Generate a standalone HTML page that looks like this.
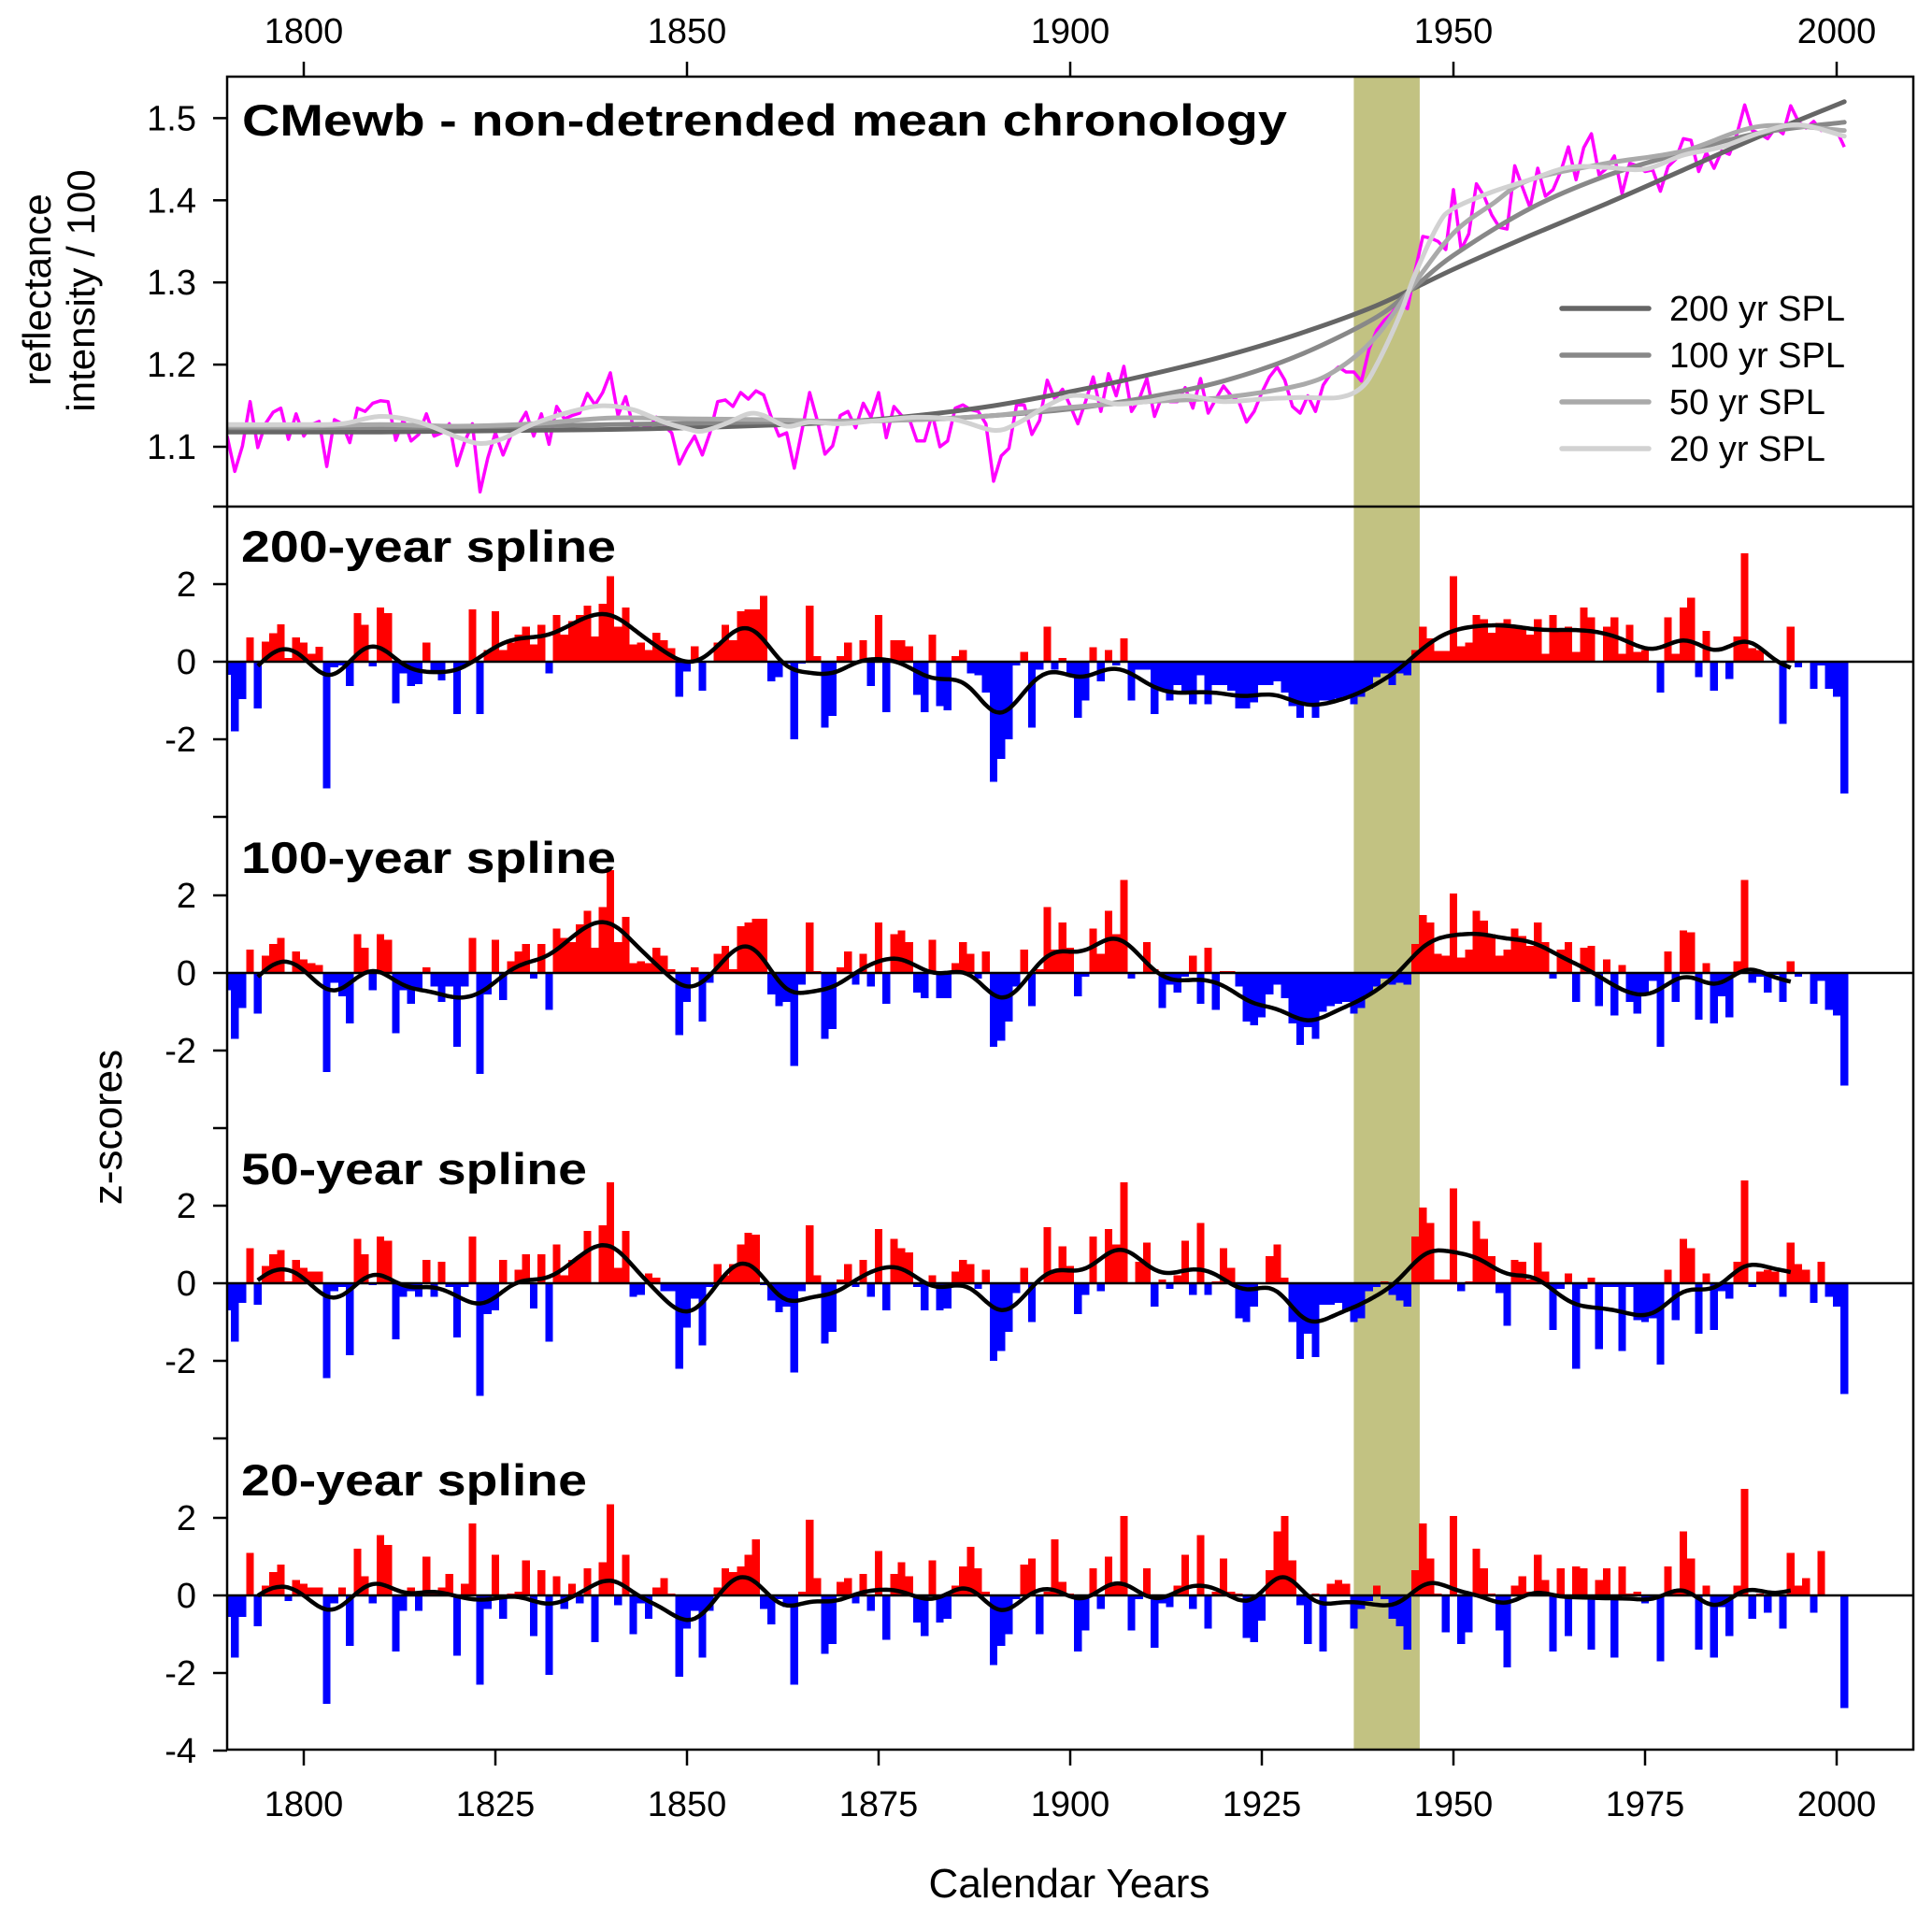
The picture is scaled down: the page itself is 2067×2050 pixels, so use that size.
<!DOCTYPE html>
<html><head><meta charset="utf-8"><title>CMewb chronology</title>
<style>html,body{margin:0;padding:0;background:#fff}svg{display:block}text{font-family:"Liberation Sans",Arial,sans-serif}</style>
</head><body>
<svg id="chart" width="2067" height="2050" viewBox="0 0 2067 2050" xmlns="http://www.w3.org/2000/svg">
<defs><clipPath id="frameClip"><rect x="243" y="82" width="1804" height="1790"/></clipPath></defs>
<rect x="0" y="0" width="2067" height="2050" fill="#fff"/>
<g id="band"></g>
<g id="plot" clip-path="url(#frameClip)"></g>
<rect x="243" y="82" width="1804" height="1790" fill="none" stroke="#000" stroke-width="2.5"/>
<line x1="228" y1="542" x2="2047" y2="542" stroke="#000" stroke-width="2.5"/>
<g id="axes"></g>
<text x="259" y="145" font-size="47" font-weight="bold" textLength="1118" lengthAdjust="spacingAndGlyphs">CMewb - non-detrended mean chronology</text>
<text x="258" y="601" font-size="47" font-weight="bold" textLength="401" lengthAdjust="spacingAndGlyphs">200-year spline</text>
<text x="258" y="934" font-size="47" font-weight="bold" textLength="401" lengthAdjust="spacingAndGlyphs">100-year spline</text>
<text x="258" y="1267" font-size="47" font-weight="bold" textLength="370" lengthAdjust="spacingAndGlyphs">50-year spline</text>
<text x="258" y="1600" font-size="47" font-weight="bold" textLength="370" lengthAdjust="spacingAndGlyphs">20-year spline</text>
<text x="1144" y="2030" font-size="44" text-anchor="middle">Calendar Years</text>
<text transform="translate(130,1206) rotate(-90)" font-size="44" text-anchor="middle">z-scores</text>
<text transform="translate(54,310) rotate(-90)" font-size="42" text-anchor="middle">reflectance</text>
<text transform="translate(101,311) rotate(-90)" font-size="42" text-anchor="middle">intensity / 100</text>
<g id="legend"></g>
</svg>
<script>
const yearStart = 1790;
const raw = [1.113,1.070,1.101,1.155,1.099,1.128,1.142,1.147,1.109,1.140,
1.113,1.127,1.131,1.076,1.133,1.128,1.105,1.147,1.143,1.153,
1.156,1.155,1.108,1.133,1.107,1.115,1.140,1.113,1.117,1.128,
1.077,1.106,1.128,1.045,1.086,1.117,1.090,1.113,1.126,1.142,
1.113,1.140,1.103,1.149,1.134,1.138,1.141,1.165,1.151,1.166,
1.190,1.138,1.161,1.124,1.128,1.123,1.136,1.126,1.117,1.079,
1.098,1.113,1.090,1.117,1.155,1.157,1.149,1.166,1.158,1.168,
1.163,1.136,1.113,1.117,1.074,1.120,1.166,1.132,1.091,1.101,
1.138,1.143,1.123,1.153,1.136,1.166,1.111,1.149,1.138,1.134,
1.107,1.107,1.140,1.100,1.107,1.147,1.151,1.145,1.143,1.128,
1.058,1.089,1.098,1.151,1.151,1.115,1.132,1.181,1.158,1.170,
1.150,1.128,1.155,1.185,1.143,1.189,1.162,1.198,1.143,1.158,
1.183,1.137,1.162,1.155,1.155,1.172,1.147,1.183,1.141,1.158,
1.174,1.162,1.155,1.130,1.143,1.166,1.185,1.197,1.181,1.149,
1.141,1.162,1.143,1.175,1.189,1.197,1.191,1.191,1.180,1.219,
1.242,1.254,1.263,1.276,1.268,1.314,1.356,1.354,1.350,1.340,
1.413,1.340,1.359,1.420,1.405,1.382,1.367,1.365,1.442,1.416,
1.391,1.439,1.405,1.413,1.435,1.465,1.425,1.464,1.481,1.431,
1.439,1.454,1.408,1.445,1.442,1.435,1.437,1.411,1.441,1.450,
1.475,1.473,1.435,1.458,1.439,1.460,1.456,1.481,1.516,1.485,
1.481,1.475,1.488,1.481,1.515,1.496,1.488,1.496,1.485,1.487,
1.485,1.465];
const spl200Years = [1790,1800,1810,1820,1830,1840,1850,1860,1870,1880,1890,1900,1910,1920,1930,1940,1950,1960,1970,1980,1990,2001];
const spl200Vals = [1.118,1.118,1.118,1.119,1.120,1.121,1.123,1.126,1.130,1.138,1.150,1.167,1.187,1.210,1.238,1.272,1.316,1.357,1.396,1.437,1.478,1.520];
const spl100Years = [1790,1800,1820,1840,1860,1880,1890,1900,1910,1920,1930,1940,1945,1950,1960,1970,1980,1990,2001];
const spl100Vals = [1.123,1.123,1.124,1.127,1.130,1.133,1.138,1.146,1.160,1.180,1.212,1.258,1.295,1.333,1.390,1.430,1.458,1.482,1.495];
const spl50Years = [1790,1800,1810,1820,1830,1840,1850,1860,1870,1880,1890,1900,1910,1920,1930,1935,1940,1945,1950,1955,1960,1970,1980,1990,2001];
const spl50Vals = [1.125,1.125,1.127,1.125,1.128,1.135,1.134,1.133,1.131,1.133,1.138,1.148,1.155,1.160,1.175,1.195,1.235,1.300,1.360,1.395,1.425,1.445,1.460,1.490,1.485];
const spl20Years = [1790,1800,1805,1810,1815,1820,1823,1826,1830,1835,1839,1843,1847,1850,1852,1855,1858,1860,1863,1866,1870,1875,1880,1885,1890,1893,1897,1900,1903,1906,1910,1915,1920,1925,1930,1935,1938,1940,1943,1945,1948,1950,1955,1960,1965,1970,1975,1980,1985,1990,1995,2001];
const spl20Vals = [1.127,1.127,1.128,1.137,1.130,1.112,1.104,1.110,1.128,1.143,1.150,1.145,1.130,1.122,1.119,1.128,1.140,1.138,1.125,1.130,1.128,1.132,1.136,1.133,1.120,1.128,1.150,1.162,1.160,1.152,1.155,1.162,1.155,1.158,1.160,1.160,1.172,1.200,1.260,1.310,1.370,1.390,1.410,1.425,1.440,1.440,1.438,1.455,1.465,1.482,1.492,1.478];
const z200 = [-0.34,-1.8,-0.96,0.63,-1.2,0.52,0.73,0.96,0.1,0.63,
0.49,0.2,0.39,-3.27,-0.15,-0.1,-0.63,1.25,0.95,-0.12,
1.4,1.25,-1.07,-0.3,-0.63,-0.58,0.5,-0.3,-0.48,0.02,
-1.35,-0.1,1.35,-1.35,0.3,1.3,0.3,0.5,0.7,0.9,
0.45,0.95,-0.3,1.2,0.7,1.05,1.2,1.45,0.65,1.5,
2.2,0.9,1.4,0.45,0.5,0.3,0.75,0.55,0.35,-0.9,
-0.25,0.4,-0.75,0.02,0.5,0.95,0.55,1.3,1.35,1.35,
1.7,-0.5,-0.4,-0.05,-2.0,-0.05,1.45,0.15,-1.7,-1.4,
0.15,0.5,-0.05,0.55,-0.63,1.2,-1.3,0.55,0.55,0.4,
-0.85,-1.3,0.7,-1.15,-1.25,0.15,0.3,-0.3,-0.35,-0.8,
-3.1,-2.5,-2.0,-0.1,0.25,-1.7,-0.2,0.9,-0.2,0.1,
-0.35,-1.45,-1.0,0.37,-0.5,0.3,-0.1,0.6,-1.0,-0.2,
-0.2,-1.35,-0.75,-1.0,-0.6,-0.8,-1.1,-0.35,-1.1,-0.6,
-0.6,-0.75,-1.2,-1.2,-1.05,-0.6,-0.6,-0.5,-0.8,-1.15,
-1.45,-1.1,-1.45,-1.0,-1.0,-0.95,-0.9,-1.1,-0.9,-0.7,
-0.4,-0.3,-0.6,-0.3,-0.35,0.3,0.9,0.6,0.28,0.28,
2.2,0.4,0.5,1.2,1.1,0.75,1.0,1.1,0.9,0.9,
0.7,1.1,0.2,1.2,0.85,0.9,0.25,1.4,1.15,0.02,
0.9,1.15,0.2,0.95,0.25,0.3,0.02,-0.8,1.15,0.2,
1.4,1.65,-0.4,0.8,-0.75,0.02,-0.45,0.65,2.8,0.35,
0.3,0.02,0.01,-1.6,0.9,-0.15,0,-0.7,-0.1,-0.7,
-0.9,-3.4];
const z100 = [-0.45,-1.7,-0.9,0.6,-1.05,0.45,0.75,0.9,0.02,0.55,
0.35,0.25,0.2,-2.55,-0.25,-0.6,-1.3,1.0,0.65,-0.45,
1.0,0.85,-1.55,-0.45,-0.8,-0.4,0.15,-0.35,-0.75,-0.35,
-1.9,-0.35,0.9,-2.6,-0.55,0.85,-0.7,0.3,0.55,0.75,
-0.15,0.75,-0.95,1.15,0.9,0.8,1.25,1.6,0.65,1.7,
2.65,0.8,1.45,0.25,0.3,0.25,0.65,0.45,0.1,-1.6,
-0.75,0.15,-1.25,-0.25,0.5,0.7,0.1,1.2,1.3,1.4,
1.4,-0.55,-0.85,-0.75,-2.4,-0.3,1.3,0.05,-1.7,-1.45,
0.15,0.55,-0.3,0.5,-0.35,1.3,-0.8,1.0,1.1,0.8,
-0.5,-0.65,0.85,-0.65,-0.65,0.25,0.8,0.5,-0.15,0.55,
-1.9,-1.75,-1.25,-0.35,0.6,-0.85,0.1,1.7,0.6,1.3,
0.65,-0.6,-0.1,1.15,0.5,1.6,1.0,2.4,-0.15,0.0,
0.8,0.1,-0.9,-0.3,-0.5,-0.1,0.45,-0.8,0.65,-0.95,
0.05,0.05,-0.35,-1.25,-1.35,-1.15,-0.55,-0.3,-0.65,-1.3,
-1.85,-1.4,-1.7,-1.0,-0.85,-0.8,-0.75,-1.05,-0.9,-0.55,
-0.35,-0.15,-0.3,-0.25,-0.3,0.75,1.5,1.3,0.5,0.45,
2.05,0.4,0.6,1.6,1.35,1.0,0.45,0.6,1.15,0.95,
0.7,1.3,0.8,-0.15,0.6,0.8,-0.75,0.65,0.7,-0.85,
0.35,-1.1,0.2,-0.75,-1.05,-0.5,-0.2,-1.9,0.55,-0.75,
1.1,1.05,-1.2,0.25,-1.3,-0.6,-1.15,0.3,2.4,-0.25,
-0.1,-0.5,-0.05,-0.75,0.3,-0.1,0,-0.8,-0.2,-0.95,
-1.1,-2.9];
const z50 = [-0.7,-1.5,-0.5,0.9,-0.55,0.45,0.75,0.85,0.05,0.6,
0.4,0.3,0.3,-2.45,-0.2,-0.1,-1.85,1.15,0.75,-0.05,
1.2,1.1,-1.45,-0.35,-0.2,-0.35,0.6,-0.35,0.55,-0.1,
-1.4,-0.1,1.2,-2.9,-0.8,-0.7,0.6,0.02,0.35,0.75,
-0.65,0.75,-1.5,1.0,0.2,0.6,0.7,1.35,0.02,1.5,
2.6,0.4,1.35,-0.35,-0.3,0.25,0.15,-0.2,-0.2,-2.2,
-1.15,-0.4,-1.6,-0.1,0.5,0.2,0.5,1.0,1.3,1.25,
-0.05,-0.45,-0.75,-0.6,-2.3,-0.2,1.5,0.2,-1.55,-1.25,
0.1,0.5,-0.1,0.6,-0.35,1.4,-0.7,1.15,0.9,0.8,
-0.1,-0.7,0.2,-0.7,-0.65,0.3,0.6,0.5,-0.15,0.35,
-2.0,-1.75,-1.25,-0.25,0.4,-1.0,0.02,1.45,0.35,0.95,
0.45,-0.8,-0.3,1.2,-0.2,1.4,1.0,2.6,0.0,0.55,
1.05,-0.6,0.1,-0.15,0.2,1.1,-0.3,1.55,-0.3,0.05,
0.9,0.4,-0.9,-1.0,-0.6,0.0,0.7,1.0,0.15,-1.0,
-1.95,-1.3,-1.9,-0.55,-0.55,-0.5,-0.7,-1.0,-0.9,-0.2,
-0.1,0.05,-0.3,-0.45,-0.6,1.2,1.95,1.55,0.1,0.1,
2.45,-0.2,0.05,1.6,1.15,0.7,-0.25,-1.1,0.6,0.55,
0.1,1.05,0.3,-1.2,-0.15,0.25,-2.2,-0.15,0.15,-1.7,
-0.1,-0.1,-1.75,-0.1,-0.95,-1.0,-0.9,-2.1,0.35,-0.95,
1.15,0.9,-1.3,0.25,-1.2,-0.2,-0.4,0.55,2.65,-0.1,
0.3,0.35,0.3,-0.35,1.05,0.5,0.35,-0.5,0.55,-0.35,
-0.6,-2.85];
const z20 = [-0.55,-1.6,-0.55,1.1,-0.8,0.25,0.6,0.8,-0.15,0.4,
0.3,0.2,0.2,-2.8,-0.2,0.2,-1.3,1.2,0.5,-0.2,
1.55,1.3,-1.45,-0.4,0.2,-0.4,1.0,0.05,0.2,0.55,
-1.55,0.3,1.85,-2.3,-0.35,1.05,-0.6,0.05,0.1,0.9,
-1.05,0.65,-2.05,0.5,-0.35,0.3,-0.2,0.7,-1.2,0.85,
2.35,-0.25,1.05,-1.0,-0.2,-0.6,0.2,0.45,0.05,-2.1,
-0.85,-0.4,-1.6,-0.4,0.2,0.7,0.6,0.75,1.05,1.45,
-0.35,-0.75,-0.1,-0.3,-2.3,0.1,1.95,0.45,-1.5,-1.25,
0.35,0.45,-0.2,0.55,-0.4,1.15,-1.15,0.55,0.85,0.5,
-0.7,-1.05,0.9,-0.7,-0.6,0.25,0.75,1.25,0.7,0.1,
-1.8,-1.3,-1.0,-0.1,0.8,0.95,-1.0,0.1,1.45,0.35,
0.05,-1.45,-0.9,0.7,-0.35,1.0,0.3,2.05,-0.9,-0.1,
0.7,-1.35,-0.2,-0.3,0.25,1.05,-0.35,1.55,-0.85,0.1,
0.95,0.1,0.05,-1.1,-1.2,-0.65,0.65,1.65,2.05,0.9,
-0.25,-1.25,0.05,-1.45,0.3,0.4,0.3,-0.85,-0.35,-0.15,
0.25,-0.1,-0.6,-0.8,-1.4,0.65,1.85,0.95,0.05,-0.95,
2.05,-1.25,-0.95,1.2,0.7,0.05,-0.9,-1.85,0.25,0.5,
0.1,1.05,0.4,-1.45,0.7,-1.05,0.75,0.7,-1.4,0.4,
0.7,-1.6,0.75,0.05,0.1,-0.2,-0.05,-1.7,0.75,0.1,
1.65,0.95,-1.4,0.25,-1.6,-0.3,-1.05,0.25,2.75,-0.6,
0.05,-0.45,0.05,-0.85,1.1,0.25,0.45,-0.45,1.15,0,
0,-2.9];
const topTicks = ["1800","1850","1900","1950","2000"];
const bottomTicks = ["1800","1825","1850","1875","1900","1925","1950","1975","2000"];
const topYTicks = ["1.1","1.2","1.3","1.4","1.5"];
const zTickLabels = ["2","0","-2"];
const bandStart = 1937, bandEnd = 1945.6;
const curveStart = 1794, curveEnd = 1994;

const NS = "http://www.w3.org/2000/svg";
const X = yr => 325 + (yr - 1800) * 8.2;
const YT = v => 478 - (v - 1.1) * 879;
const panelZero = [708, 1041, 1373, 1707];
const zUnit = 41.5;
function mk(tag, attrs, parent) {
  const e = document.createElementNS(NS, tag);
  for (const k in attrs) e.setAttribute(k, attrs[k]);
  parent.appendChild(e);
  return e;
}
function catmull(pts) {
  let d = "M" + pts[0][0].toFixed(1) + "," + pts[0][1].toFixed(1);
  for (let i = 0; i < pts.length - 1; i++) {
    const p0 = pts[Math.max(i - 1, 0)], p1 = pts[i], p2 = pts[i + 1], p3 = pts[Math.min(i + 2, pts.length - 1)];
    const c1x = p1[0] + (p2[0] - p0[0]) / 6, c1y = p1[1] + (p2[1] - p0[1]) / 6;
    const c2x = p2[0] - (p3[0] - p1[0]) / 6, c2y = p2[1] - (p3[1] - p1[1]) / 6;
    d += "C" + c1x.toFixed(1) + "," + c1y.toFixed(1) + " " + c2x.toFixed(1) + "," + c2y.toFixed(1) + " " + p2[0].toFixed(1) + "," + p2[1].toFixed(1);
  }
  return d;
}
function smooth(arr, sigma) {
  return arr.map((_, i) => {
    let s = 0, w = 0;
    for (let j = Math.max(0, i - 10); j <= Math.min(arr.length - 1, i + 10); j++) {
      const g = Math.exp(-((j - i) * (j - i)) / (2 * sigma * sigma));
      s += g * arr[j]; w += g;
    }
    return s / w;
  });
}

const band = document.getElementById("band");
const bandRect = mk("rect", {x: X(bandStart), y: 82, width: X(bandEnd) - X(bandStart), height: 1790, fill: "#c2c282"}, band);



const plot = document.getElementById("plot");
// top panel spline curves
const splines = [
  [spl200Years, spl200Vals, "#666666", "spline-200yr"],
  [spl100Years, spl100Vals, "#888888", "spline-100yr"],
  [spl50Years, spl50Vals, "#aaaaaa", "spline-50yr"],
  [spl20Years, spl20Vals, "#d2d2d2", "spline-20yr"]
];
const rawPts = raw.map((v, i) => [X(yearStart + i), YT(v)]);
const rawLine = mk("polyline", {points: rawPts.map(p => p[0].toFixed(1) + "," + p[1].toFixed(1)).join(" "), fill: "none", stroke: "#ff00ff", "stroke-width": 3.5, "stroke-linejoin": "round"}, plot);


splines.forEach(s => {
  const pts = s[0].map((yr, i) => [X(yr), YT(s[1][i])]);
  const p = mk("path", {d: catmull(pts), fill: "none", stroke: s[2], "stroke-width": 5, "stroke-linecap": "round"}, plot);
  
  
});

const panels = [[z200, "200"], [z100, "100"], [z50, "50"], [z20, "20"]];
panels.forEach((pn, k) => {
  const Z0 = panelZero[k];
  const g = mk("g", {}, plot);
  
  
  pn[0].forEach((v, i) => {
    const yr = yearStart + i;
    const h = Math.abs(v) * zUnit;
    const r = mk("rect", {x: (X(yr) - 4.1).toFixed(2), y: (v >= 0 ? Z0 - h : Z0).toFixed(2), width: 8.2, height: h.toFixed(2), fill: v >= 0 ? "#ff0000" : "#0000ff", "shape-rendering": "crispEdges"}, g);
    
    
  });
  const zl = mk("line", {x1: 243, x2: 2047, y1: Z0, y2: Z0, stroke: "#000", "stroke-width": 2.5}, g);
  
  
  const sm = smooth(pn[0], 2.6);
  const pts = [];
  sm.forEach((v, i) => { const yr = yearStart + i; if (yr >= curveStart && yr <= curveEnd) pts.push([X(yr), Z0 - v * zUnit]); });
  const c = mk("path", {d: catmull(pts), fill: "none", stroke: "#000", "stroke-width": 4.5, "stroke-linejoin": "round"}, g);
  
  
});

const axes = document.getElementById("axes");
topTicks.forEach(t => {
  const x = X(+t);
  const l = mk("line", {x1: x, x2: x, y1: 66, y2: 82, stroke: "#000", "stroke-width": 2.5}, axes);
  
  
  const tx = mk("text", {x: x, y: 46, "font-size": 38, "text-anchor": "middle"}, axes);
  tx.textContent = t;
  
  
});
bottomTicks.forEach(t => {
  const x = X(+t);
  const l = mk("line", {x1: x, x2: x, y1: 1872, y2: 1889, stroke: "#000", "stroke-width": 2.5}, axes);
  
  
  const tx = mk("text", {x: x, y: 1943, "font-size": 38, "text-anchor": "middle"}, axes);
  tx.textContent = t;
  
  
});
topYTicks.forEach(t => {
  const y = YT(+t);
  const l = mk("line", {x1: 228, x2: 243, y1: y, y2: y, stroke: "#000", "stroke-width": 2.5}, axes);
  
  
  const tx = mk("text", {x: 210, y: y + 13, "font-size": 38, "text-anchor": "end"}, axes);
  tx.textContent = t;
  
  
});
panelZero.forEach((Z0, k) => {
  [2, 0, -2, -4].forEach((v, j) => {
    const y = Z0 - v * zUnit;
    const l = mk("line", {x1: 228, x2: 243, y1: y, y2: y, stroke: "#000", "stroke-width": 2.5}, axes);
    
    
    let lab = j < 3 ? zTickLabels[j] : (k === 3 ? "-4" : null);
    if (lab !== null) {
      const tx = mk("text", {x: 210, y: y + 13, "font-size": 38, "text-anchor": "end"}, axes);
      tx.textContent = lab;
      
      
    }
  });
});

const legend = document.getElementById("legend");
const legendLabels = ["200 yr SPL", "100 yr SPL", "50 yr SPL", "20 yr SPL"];
legendLabels.forEach((lab, i) => {
  const y = 330 + i * 50;
  const g = mk("g", {}, legend);
  
  
  const l = mk("line", {x1: 1671, x2: 1764, y1: y, y2: y, stroke: splines[i][2], "stroke-width": 5.5, "stroke-linecap": "round"}, g);
  
  
  const t = mk("text", {x: 1786, y: y + 13, "font-size": 38}, g);
  t.textContent = lab;
  
  
});
</script>
</body></html>
